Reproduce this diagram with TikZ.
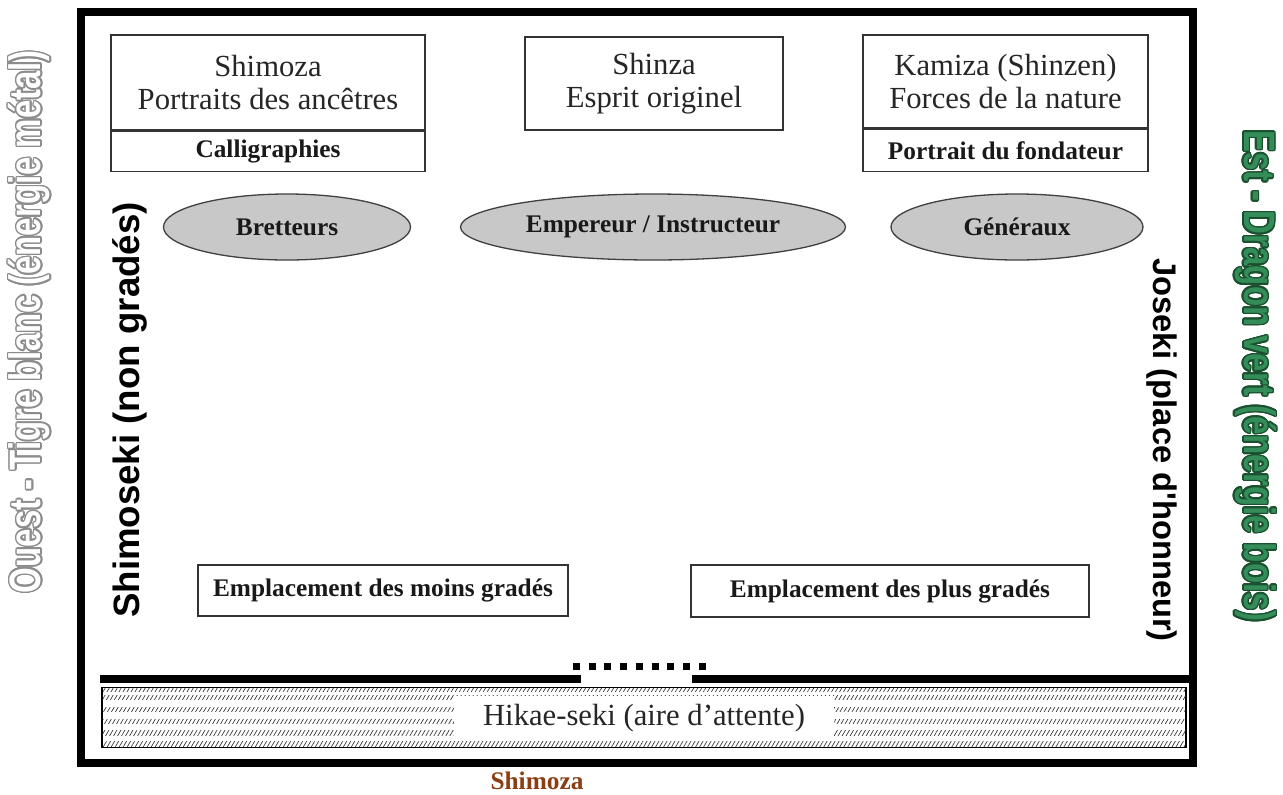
\documentclass[tikz,border=0pt]{standalone}
\usepackage{fontspec}
\setmainfont{Liberation Serif}
\newfontfamily\sidesans{Liberation Sans}
\newfontfamily\narrowsans[FakeStretch=0.75]{Liberation Sans}
\usepackage{contour}
\contourlength{1.2pt}
\usetikzlibrary{shapes.geometric,patterns.meta}
\newdimen\pxu \pxu=0.75pt
\definecolor{shimobrown}{RGB}{139,62,18}
\definecolor{estgreen}{RGB}{52,140,88}
\definecolor{estdark}{RGB}{25,80,45}
\definecolor{ovalfill}{RGB}{200,200,200}
\tikzset{
  topbox/.style={draw=black!80, line width=1.3\pxu, inner sep=0pt, align=center,
    text=black!85, font=\fontsize{23}{24.5}\selectfont},
  botbox/.style={draw=black!80, line width=1.3\pxu, inner sep=0pt, align=center,
    text=black!90, font=\bfseries\fontsize{19}{20}\selectfont},
  oval/.style={ellipse, draw=black!75, fill=ovalfill, line width=1.3\pxu, inner sep=0pt,
    text=black!90, font=\bfseries\fontsize{19}{20}\selectfont},
  placebox/.style={draw=black!80, line width=1.3\pxu, inner sep=0pt,
    text=black!90, font=\bfseries\fontsize{19}{20}\selectfont},
  wall/.style={line width=5.6pt},
  sidelabel/.style={inner sep=0pt, font=\sidesans\bfseries\fontsize{27.5}{28}\selectfont},
  outerlabel/.style={inner sep=0pt, font=\narrowsans\bfseries\fontsize{33}{33}\selectfont},
  hatchrow/.style={pattern={Lines[angle=60, distance=2.6pt, line width=0.5pt]}, pattern color=black!80}
}
\begin{document}
\begin{tikzpicture}[x=0.75pt,y=-0.75pt]
\useasboundingbox (0,0) rectangle (1283,794);
\fill[white] (0,0) rectangle (1283,794);

% room frame
\node[draw, line width=5.4pt, minimum width=1112\pxu, minimum height=751\pxu, inner sep=0pt] (room) at (637,387.5) {};

% top boxes
\node[topbox, minimum width=314\pxu, minimum height=95\pxu] (shimoza) at (268,82.5) {Shimoza\\Portraits des ancêtres};
\node[botbox, minimum width=314\pxu, minimum height=40\pxu, anchor=north] (calli) at (shimoza.south) {Calligraphies};
\node[topbox, minimum width=258\pxu, minimum height=93\pxu] (shinza) at (654,83.5) {Shinza\\Esprit originel};
\node[topbox, minimum width=285\pxu, minimum height=93\pxu] (kamiza) at (1005.5,81.5) {Kamiza (Shinzen)\\Forces de la nature};
\node[botbox, minimum width=285\pxu, minimum height=42\pxu, anchor=north] (fondateur) at (kamiza.south) {Portrait du fondateur};

% ellipses
\node[oval, minimum width=247\pxu, minimum height=66\pxu] (bretteurs) at (287,227) {Bretteurs};
\node[oval, minimum width=385\pxu, minimum height=66\pxu] (empereur) at (653,227) {Empereur / Instructeur};
\node[oval, minimum width=252\pxu, minimum height=66\pxu] (generaux) at (1017,227) {Généraux};

% places
\node[placebox, minimum width=370\pxu, minimum height=51\pxu] (moins) at (383,590.5) {Emplacement des moins gradés};
\node[placebox, minimum width=398\pxu, minimum height=52\pxu] (plus) at (890,591) {Emplacement des plus gradés};

% side labels
\node[sidelabel, rotate=90] (shimoseki) at (130,410) {Shimoseki (non gradés)};
\node[sidelabel, rotate=-90, font=\sidesans\bfseries\fontsize{24.5}{25}\selectfont] (joseki) at (1162,450) {Joseki (place d'honneur)};

% outer labels
\node[outerlabel, rotate=90, text=white] (ouest) at (30,322) {\contour{black!45}{Ouest - Tigre blanc (énergie métal)}};
\node[outerlabel, rotate=-90, text=estgreen] (est) at (1255,376) {\contour{estdark}{Est - Dragon vert (énergie bois)}};

% wall with door
\coordinate (wl) at (100,679);
\coordinate (wm1) at (581,679);
\coordinate (wm2) at (692,679);
\coordinate (wr) at (1190,679);
\draw[wall] (wl) -- (wm1);
\draw[wall] (wm2) -- (wr);
\coordinate (d1) at (573,666);
\coordinate (d2) at (706,666);
\draw[line width=5.25pt, dash pattern=on 5.25pt off 6.56pt] (d1) -- (d2);

% waiting area
\node[draw=black, line width=1pt, minimum width=1084\pxu, minimum height=60\pxu, inner sep=0pt] (hikae) at (644,717.5) {};
\foreach \yy/\hh in {690/2.5, 697.5/4.5, 709.5/4.5, 721.5/4.5, 733/4.5, 744/4.5}{
  \fill[hatchrow] ([xshift=1pt]hikae.west |- 0,\yy-\hh/2) rectangle ([xshift=-1pt]hikae.east |- 0,\yy+\hh/2);
}
\node[fill=white, minimum width=380\pxu, minimum height=44\pxu, inner sep=0pt, text=black!85, font=\fontsize{23}{24}\selectfont] (hikaetext) at ([yshift=-0.5pt]hikae.center) {Hikae-seki (aire d’attente)};

% bottom label
\node[text=shimobrown, font=\bfseries\fontsize{19}{20}\selectfont] (shimozabas) at (537,781) {Shimoza};
\end{tikzpicture}
\end{document}
